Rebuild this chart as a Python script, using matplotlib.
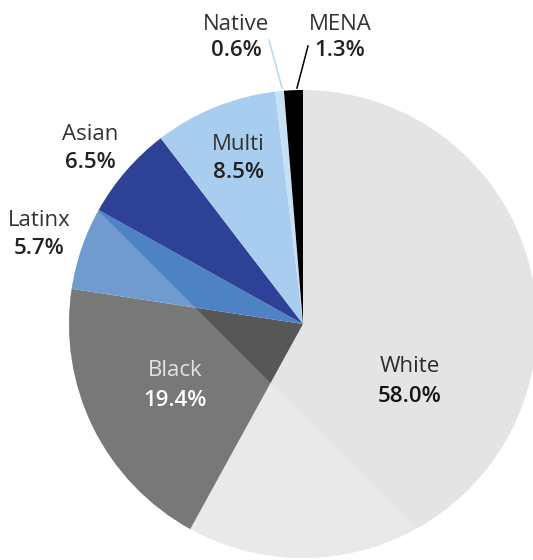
import matplotlib
matplotlib.use("Agg")
import matplotlib.pyplot as plt
from matplotlib.patches import Circle, Polygon
from matplotlib import font_manager

# ---- data ----
categories = ["White", "Black", "Latinx", "Asian", "Multi", "Native", "MENA"]
values = [58.0, 19.4, 5.7, 6.5, 8.5, 0.6, 1.3]
pct_labels = ["58.0%", "19.4%", "5.7%", "6.5%", "8.5%", "0.6%", "1.3%"]

# ---- style ----
colors = ["#e4e4e4", "#575757", "#4d83c4", "#2d4196", "#a8cdee", "#c6e0f6", "#000000"]
name_colors = ["#2b2b2b", "#e2e2e2", "#333333", "#333333", "#333333", "#333333", "#333333"]
pct_colors = ["#151515", "#ffffff", "#222222", "#222222", "#222222", "#222222", "#222222"]
# label centres in pixels (x, name_y, pct_y)
label_px = [(410, 364, 393), (175, 368, 397), (39, 218, 246), (90, 131, 159),
            (238, 141, 169), (236, 22, 48), (340, 22, 48)]
cap_half = 8.5

W, H, DPI = 533, 560, 100
cx_px, cy_px, r_px = 303, 324, 234

plt.rcParams["font.family"] = ["Open Sans", "DejaVu Sans"]
fig = plt.figure(figsize=(W / DPI, H / DPI), dpi=DPI)
ax = fig.add_axes([0, 0, 1, 1])

wedges, _ = ax.pie(values, colors=colors, startangle=90, counterclock=False,
                   radius=1, center=(0, 0), wedgeprops=dict(linewidth=0),
                   frame=True)
ax.set_xlim(-cx_px / r_px, (W - cx_px) / r_px)
ax.set_ylim(-(H - cy_px) / r_px, cy_px / r_px)
ax.set_aspect("equal")
ax.axis("off")


def px(x, y):
    return ((x - cx_px) / r_px, (cy_px - y) / r_px)


# light overlay on lower-left segment
clip = Circle((0, 0), 1, transform=ax.transData)
k = -0.39
big = 5
poly = Polygon([(-big, k + big), (k + big, -big), (-big, -big)],
               closed=True, facecolor="white", alpha=0.2, edgecolor="none",
               zorder=3)
ax.add_patch(poly)
poly.set_clip_path(clip)

# labels
for i, (name, pct) in enumerate(zip(categories, pct_labels)):
    x, ny, py = label_px[i]
    ax.text(*px(x, ny + cap_half), name, ha="center", va="baseline", fontsize=16,
            color=name_colors[i], zorder=5)
    ax.text(*px(x, py + cap_half), pct, ha="center", va="baseline", fontsize=16,
            fontweight="semibold", color=pct_colors[i], zorder=5)

# leader lines for Native and MENA
for (a, b, c) in [((269, 40), (282, 88), "#b6d6f2"), ((308, 46), (297, 88), "#000000")]:
    pa, pb = px(*a), px(*b)
    ax.plot([pa[0], pb[0]], [pa[1], pb[1]], color=c, lw=1.1, zorder=4)

fig.savefig("out.png", dpi=DPI, facecolor="white")
